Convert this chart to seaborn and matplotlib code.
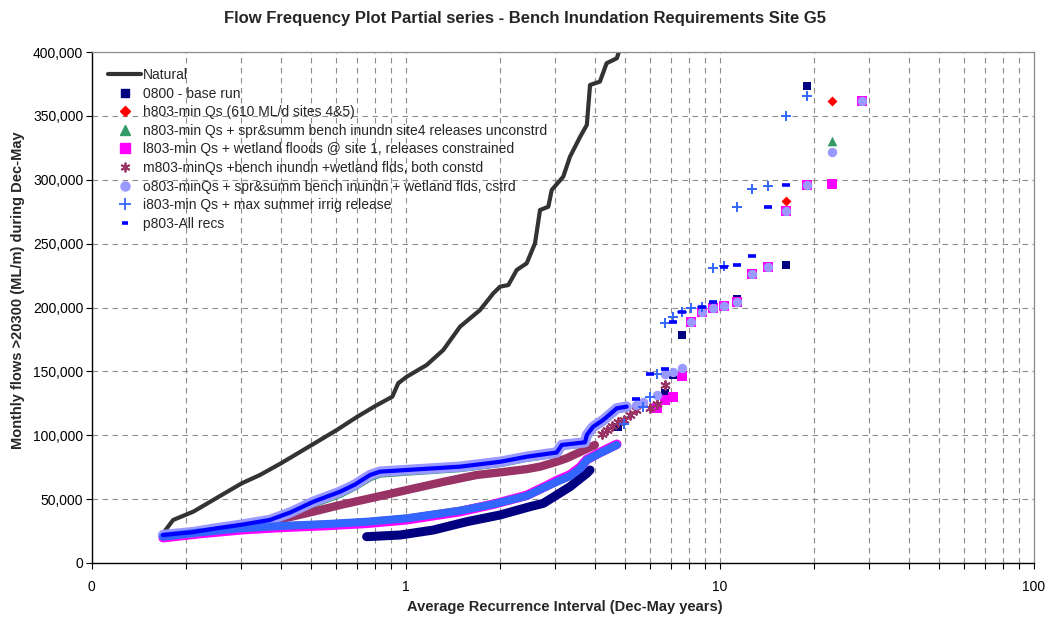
import matplotlib
matplotlib.use("Agg")
import matplotlib.pyplot as plt
from matplotlib.lines import Line2D
from matplotlib.ticker import FixedLocator, FuncFormatter, NullFormatter
import seaborn as sns

# ---------------- data: average recurrence interval (years) vs monthly flow (ML/m) ----------------
# Natural (unregulated) series
nat_ari = [0.169, 0.182, 0.211, 0.244, 0.301, 0.344, 0.401, 0.503, 0.604, 0.702, 0.804, 0.908,
           0.948, 1.009, 1.168, 1.319, 1.492, 1.727, 1.904, 2.0, 2.126, 2.261, 2.432, 2.585,
           2.682, 2.850, 2.922, 3.18, 3.34, 3.60, 3.78, 3.87, 4.16, 4.37, 4.71, 4.88]
nat_flow = [23200, 33700, 40200, 49300, 62400, 68900, 78000, 92400, 104100, 114500, 123100, 130200,
            140700, 145800, 155000, 166700, 185000, 198000, 211100, 216300, 217600, 229400, 234600, 250300,
            276300, 278900, 292000, 302400, 318000, 333700, 342900, 374200, 376800, 391200, 395100, 406800]

# 0800 - base run
base_band_ari = [0.752, 0.960, 1.226, 1.566, 2.0, 2.492, 2.747, 3.03, 3.34, 3.78, 3.87]
base_band_flow = [20600, 21900, 25800, 32300, 37600, 44100, 46700, 53200, 59700, 70200, 72800]
base_pt_ari = [4.75, 6.71, 7.13, 7.6, 11.4, 16.3, 19.0]
base_pt_flow = [106700, 132800, 147000, 178500, 206400, 233300, 373000]

# lower group of runs (h803, l803, i803)
low_ari = [0.169, 0.222, 0.301, 0.401, 0.561, 0.752, 1.009, 1.492, 1.904, 2.432, 2.817, 3.03,
           3.34, 3.60, 3.78, 4.16, 4.71]
h_band_flow = [20200, 23600, 26800, 28600, 30000, 31800, 34600, 40800, 46000, 52800, 60200, 64000,
               68500, 74500, 80800, 86200, 92700]
h_pt_ari = [16.3, 22.8]
h_pt_flow = [283600, 362000]

l_band_flow = [19800, 23000, 26000, 27800, 29300, 31000, 33800, 40200, 46000, 53000, 60500, 64500,
               69000, 75000, 81000, 86500, 93000]
l_pt_ari = [6.33, 6.71, 7.13, 7.6, 8.14, 8.77, 9.5, 10.36, 11.4, 12.67, 14.25, 16.3, 19.0, 22.8, 28.5]
l_pt_flow = [121100, 127600, 130200, 146400, 188400, 196200, 199600, 201200, 204600, 226000, 231500,
             275500, 295600, 296700, 362000]

i_band_flow = [20600, 24000, 27200, 29000, 30500, 32300, 35000, 41000, 46000, 52500, 60000, 63500,
               68000, 74000, 80600, 85900, 92400]
i_pt_ari = [4.96, 5.7, 6.0, 6.33, 6.71, 7.13, 7.6, 8.14, 8.77, 9.5, 10.36, 11.4, 12.67, 14.25, 16.3, 19.0]
i_pt_flow = [109000, 122300, 130200, 148000, 188200, 192200, 196200, 199600, 200700, 231200, 232700,
             278400, 292500, 295300, 350000, 365600]

# upper group of runs (n803, o803, p803)
up_ari = [0.169, 0.211, 0.251, 0.301, 0.370, 0.429, 0.509, 0.619, 0.691, 0.771, 0.829, 1.009,
          1.492, 2.01, 2.432, 3.03, 3.145, 3.73, 3.78, 3.96, 4.26, 4.71, 5.06]
n_band_flow = [21600, 24000, 27000, 29600, 33000, 38500, 46800, 54500, 60500, 67500, 70300, 71800,
               74600, 78600, 82600, 86000, 92000, 94000, 99500, 106000, 111200, 120500, 122000]
n_pt_ari = [22.8]
n_pt_flow = [330600]

o_band_flow = [21900, 24200, 27200, 30000, 33700, 39500, 48000, 55800, 61500, 68900, 71500, 72800,
               75400, 79300, 83200, 86500, 92400, 94500, 100200, 106700, 111900, 121100, 122400]
o_pt_ari = [5.43, 5.7, 6.33, 6.71, 7.13, 7.6, 8.14, 8.77, 9.5, 10.36, 11.4, 12.67, 14.25, 16.3,
            19.0, 22.8, 28.5]
o_pt_flow = [124000, 126300, 131500, 148000, 149800, 152400, 188400, 196200, 199600, 201200, 204600,
             226000, 231500, 275500, 295600, 322000, 362000]

p_band_flow = [21900, 24200, 27200, 30000, 33700, 39500, 48000, 55800, 61500, 68900, 71500, 72800,
               75400, 79300, 83200, 86500, 92400, 94500, 100200, 106700, 111900, 121100, 122400]
p_pt_ari = [5.43, 6.0, 6.71, 7.13, 7.6, 8.77, 9.5, 10.36, 11.4, 12.67, 14.25, 16.3]
p_pt_flow = [128400, 147700, 151900, 188400, 196200, 200700, 204100, 231500, 233300, 240600, 278400, 295600]

# m803 run
m_band_ari = [0.169, 0.301, 0.370, 0.509, 0.619, 0.771, 1.009, 1.319, 1.686, 2.01, 2.432, 2.682,
              3.03, 3.26, 3.68, 4.01]
m_band_flow = [21000, 28500, 32300, 40200, 45400, 50600, 57100, 63500, 68900, 71000, 73500, 75400,
               79300, 82000, 88000, 92400]
m_pt_ari = [4.22, 4.38, 4.56, 4.75, 4.96, 5.18, 5.43, 6.0, 6.33, 6.71]
m_pt_flow = [101000, 104500, 107500, 110000, 112000, 115500, 119800, 121600, 124500, 139300]

labels = ["Natural",
          "0800 - base run",
          "h803-min Qs (610 ML/d sites 4&5)",
          "n803-min Qs + spr&summ bench inundn site4 releases unconstrd",
          "l803-min Qs + wetland floods @ site 1, releases constrained",
          "m803-minQs +bench inundn +wetland flds, both constd",
          "o803-minQs + spr&summ bench inundn + wetland flds, cstrd",
          "i803-min Qs + max summer irrig release",
          "p803-All recs"]

C_NAT, C_BASE, C_H, C_N = "#333333", "#000080", "#FF0000", "#339966"
C_L, C_M, C_O, C_I, C_P = "#FF00FF", "#993366", "#9999FF", "#3366FF", "#0000FF"
ASTER = (6, 2, 0)

# ---------------- figure ----------------
sns.set_style("white")
plt.rcParams['font.family'] = ['Liberation Sans', 'DejaVu Sans']

W, H = 1050, 621
fig = plt.figure(figsize=(W / 100, H / 100), dpi=100)
ax = fig.add_axes([91.5 / W, (H - 563) / H, 942 / W, 511 / H])
ax.set_xscale("log")


def band(x, y, color, lw, z):
    sns.lineplot(x=x, y=y, ax=ax, color=color, linewidth=lw, estimator=None, sort=False,
                 zorder=z, solid_capstyle="round", solid_joinstyle="round")


def points(x, y, marker, size, color, z, lw=0):
    sns.scatterplot(x=x, y=y, ax=ax, marker=marker, s=size, color=color, edgecolor=color,
                    linewidth=lw, zorder=z, legend=False)


band(nat_ari, nat_flow, C_NAT, 3.0, 2)

band(base_band_ari, base_band_flow, C_BASE, 6.5, 3)
points(base_pt_ari, base_pt_flow, "s", 38, C_BASE, 3)

band(low_ari, h_band_flow, C_H, 6.0, 4)
points(h_pt_ari, h_pt_flow, "D", 26, C_H, 4)

band(up_ari, n_band_flow, C_N, 6.5, 5)
points(n_pt_ari, n_pt_flow, "^", 48, C_N, 5)

band(low_ari, l_band_flow, C_L, 6.8, 6)
points(l_pt_ari, l_pt_flow, "s", 42, C_L, 6)

band(m_band_ari, m_band_flow, C_M, 6.0, 7)
points(m_pt_ari, m_pt_flow, ASTER, 40, C_M, 7, lw=1.4)

band(up_ari, o_band_flow, C_O, 7.5, 8)
points(o_pt_ari, o_pt_flow, "o", 46, C_O, 8)

band(low_ari, i_band_flow, C_I, 5.8, 9)
points(i_pt_ari, i_pt_flow, "+", 60, C_I, 9, lw=1.4)

band(up_ari, p_band_flow, C_P, 3.0, 10)
points(p_pt_ari, p_pt_flow, "_", 30, C_P, 10, lw=2.6)

# ---------------- axes ----------------
ax.set_xlim(0.1, 100)
ax.set_ylim(0, 400000)
ax.xaxis.set_major_locator(FixedLocator([0.1, 1, 10, 100]))
ax.xaxis.set_major_formatter(FuncFormatter(lambda v, p: {0.1: "0", 1: "1", 10: "10", 100: "100"}.get(round(v, 3), "")))
minors = [m * d for d in (0.1, 1, 10) for m in range(2, 10)]
ax.xaxis.set_minor_locator(FixedLocator(minors))
ax.xaxis.set_minor_formatter(NullFormatter())
ax.yaxis.set_major_locator(FixedLocator(list(range(0, 400001, 50000))))
ax.yaxis.set_major_formatter(FuncFormatter(lambda v, p: f"{v:,.0f}"))

ax.set_axisbelow(True)
grid_kw = dict(color="#8c8c8c", linestyle=(0, (5, 4)), linewidth=0.8)
ax.grid(True, axis="x", which="both", **grid_kw)
ax.grid(True, axis="y", which="major", **grid_kw)

for side in ("left", "bottom"):
    ax.spines[side].set_color("black")
    ax.spines[side].set_linewidth(1.0)
for side in ("top", "right"):
    ax.spines[side].set_color("#8c8c8c")
    ax.spines[side].set_linewidth(0.9)

ax.tick_params(axis="both", which="both", direction="out", color="black", labelsize=10,
               labelcolor="black")
ax.tick_params(axis="x", which="both", length=4, width=0.8, pad=8, bottom=True)
ax.tick_params(axis="y", which="major", length=4, width=0.8, pad=2, left=True)
ax.set_xlabel("")
ax.set_ylabel("")

fig.text(525 / W, 1 - 18 / H, "Flow Frequency Plot Partial series - Bench Inundation Requirements Site G5",
         ha="center", va="center", fontsize=12, fontweight="bold")
fig.text(565 / W, 1 - 607 / H, "Average Recurrence Interval (Dec-May years)",
         ha="center", va="center", fontsize=10.5, fontweight="bold")
fig.text(18 / W, 1 - 290 / H, "Monthly flows >20300 (ML/m) during Dec-May",
         ha="center", va="center", rotation=90, fontsize=10.5, fontweight="bold")

# ---------------- legend ----------------
handles = [
    Line2D([], [], color=C_NAT, lw=3),
    Line2D([], [], ls="none", marker="s", ms=6, mfc=C_BASE, mec=C_BASE),
    Line2D([], [], ls="none", marker="D", ms=5, mfc=C_H, mec=C_H),
    Line2D([], [], ls="none", marker="^", ms=7, mfc=C_N, mec=C_N),
    Line2D([], [], ls="none", marker="s", ms=6.5, mfc=C_L, mec=C_L),
    Line2D([], [], ls="none", marker=ASTER, ms=7, mec=C_M, mew=1.3),
    Line2D([], [], ls="none", marker="o", ms=6.5, mfc=C_O, mec=C_O),
    Line2D([], [], ls="none", marker="+", ms=8, mec=C_I, mew=1.3),
    Line2D([], [], ls="none", marker="_", ms=5, mec=C_P, mew=2.6),
]
ax.legend(handles, labels, loc="upper left", bbox_to_anchor=(108 / W, 1 - 68 / H),
          bbox_transform=fig.transFigure, frameon=False, fontsize=10, handlelength=2.4,
          handletextpad=0.1, labelspacing=0.33, borderpad=0, borderaxespad=0)

fig.savefig("out.png", dpi=100)
